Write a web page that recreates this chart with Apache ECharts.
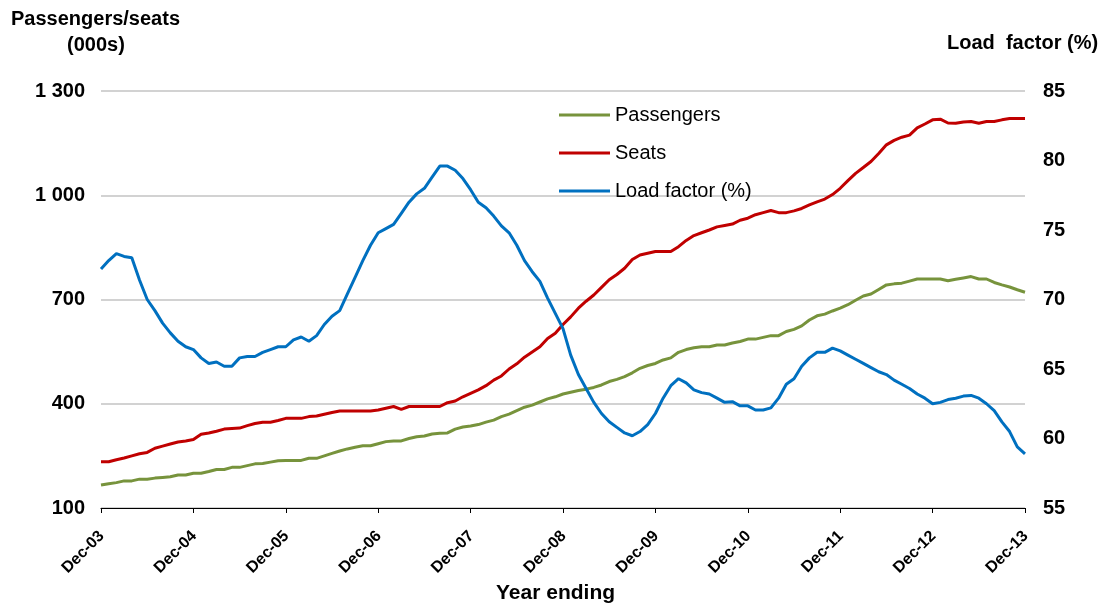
<!DOCTYPE html>
<html><head><meta charset="utf-8">
<script src="https://cdn.jsdelivr.net/npm/echarts@6/dist/echarts.min.js"></script>
<style>html,body{margin:0;padding:0;background:#fff}#c{width:1104px;height:605px}</style>
</head><body><div id="c"></div>
<script>
const yearLabels = ['Dec-03','Dec-04','Dec-05','Dec-06','Dec-07','Dec-08','Dec-09','Dec-10','Dec-11','Dec-12','Dec-13'];
const leftTicks = [100, 400, 700, 1000, 1300];
const rightTicks = [55, 60, 65, 70, 75, 80, 85];

const passengers = [166,170,173,178,178,183,183,186,188,190,195,195,200,200,205,211,211,217,217,222,227,228,232,236,237,237,237,243,243,250,257,264,270,275,279,279,285,291,293,293,300,305,307,313,315,316,327,333,336,340,347,353,363,370,380,390,396,405,414,420,428,433,438,442,447,454,464,470,478,489,502,510,516,526,532,548,556,561,564,564,569,569,575,579,586,586,591,596,596,608,614,624,641,653,658,667,675,685,698,710,716,729,742,745,747,753,759,759,759,759,754,758,762,766,759,759,749,742,736,728,721];
const seats = [233,233,239,244,250,256,260,272,278,284,290,293,297,312,316,321,327,329,330,337,343,347,347,352,358,358,358,363,365,370,375,379,379,379,379,379,382,387,392,384,392,392,392,392,392,403,408,420,430,440,452,468,480,500,515,534,549,564,588,603,628,650,675,695,713,735,757,772,790,815,828,833,838,838,838,852,870,884,892,900,909,913,917,928,934,944,950,956,950,950,955,962,972,981,989,1002,1020,1042,1063,1080,1097,1120,1145,1158,1167,1173,1194,1205,1217,1219,1208,1207,1211,1212,1207,1212,1212,1217,1221,1221,1221];
const loadFactor = [72.2,72.8,73.3,73.1,73.0,71.4,70.0,69.2,68.3,67.6,67.0,66.6,66.4,65.8,65.4,65.5,65.2,65.2,65.8,65.9,65.9,66.2,66.4,66.6,66.6,67.1,67.3,67.0,67.4,68.2,68.8,69.2,70.4,71.6,72.8,73.9,74.8,75.1,75.4,76.2,77.0,77.6,78.0,78.8,79.6,79.6,79.3,78.7,77.9,77.0,76.6,76.0,75.3,74.8,73.9,72.8,72.0,71.3,70.1,69.0,67.9,66.0,64.6,63.6,62.6,61.8,61.2,60.8,60.4,60.2,60.5,61.0,61.8,62.9,63.8,64.3,64.0,63.5,63.3,63.2,62.9,62.6,62.65,62.35,62.35,62.05,62.05,62.2,62.9,63.9,64.3,65.2,65.8,66.2,66.2,66.5,66.3,66.0,65.7,65.4,65.1,64.8,64.6,64.2,63.9,63.6,63.2,62.9,62.5,62.6,62.8,62.9,63.05,63.1,62.9,62.5,62.0,61.2,60.5,59.4,58.9];

// monthly categories: label only at each Dec
const categories = [];
for (let y = 0; y < yearLabels.length; y++) {
  if (y === 0) { categories.push(yearLabels[0]); continue; }
  for (let m = 1; m < 12; m++) categories.push('');
  categories.push(yearLabels[y]);
}

const FONT = '"Liberation Sans", Arial, sans-serif';
const chart = echarts.init(document.getElementById('c'));
chart.setOption({
  animation: false,
  grid: { left: 101, right: 79, top: 91, bottom: 97 },
  legend: {
    orient: 'vertical', left: 554, top: 100,
    itemWidth: 51, itemHeight: 3, itemGap: 18, icon: 'rect',
    textStyle: { fontFamily: FONT, fontSize: 20, color: '#000' },
    data: ['Passengers', 'Seats', 'Load factor (%)']
  },
  xAxis: {
    type: 'category', data: categories, boundaryGap: false,
    axisLine: { lineStyle: { color: '#000', width: 1.2 } },
    axisTick: { show: true, interval: 11, length: 5, lineStyle: { color: '#000' } },
    axisLabel: { interval: 11, rotate: 45, fontFamily: FONT, fontWeight: 'bold', fontSize: 16, color: '#000',
      margin: 15, align: 'right', verticalAlign: 'top', padding: [0, 7, 0, 0] },
    splitLine: { show: false }
  },
  yAxis: [
    {
      type: 'value', min: 100, max: 1300, interval: 300, position: 'left',
      axisLine: { show: false }, axisTick: { show: false },
      axisLabel: { fontFamily: FONT, fontWeight: 'bold', fontSize: 20, color: '#000', margin: 16,
        formatter: v => v >= 1000 ? String(v).replace(/(\d)(\d{3})$/, '$1 $2') : String(v) },
      splitLine: { show: true, lineStyle: { color: '#c3c3c3', width: 1.5 } }
    },
    {
      type: 'value', min: 55, max: 85, interval: 5, position: 'right',
      axisLine: { show: false }, axisTick: { show: false },
      axisLabel: { fontFamily: FONT, fontWeight: 'bold', fontSize: 20, color: '#000', margin: 18 },
      splitLine: { show: false }
    }
  ],
  graphic: [
    { type: 'text', left: 11, top: 9, style: { text: 'Passengers/seats', font: 'bold 20px ' + FONT, fill: '#000' } },
    { type: 'text', left: 67, top: 35, style: { text: '(000s)', font: 'bold 20px ' + FONT, fill: '#000' } },
    { type: 'text', left: 947, top: 33, style: { text: 'Load  factor (%)', font: 'bold 20px ' + FONT, fill: '#000' } },
    { type: 'text', left: 496, top: 583, style: { text: 'Year ending', font: 'bold 21px ' + FONT, fill: '#000' } }
  ],
  series: [
    { name: 'Passengers', type: 'line', yAxisIndex: 0, data: passengers, showSymbol: false, symbol: 'none',
      lineStyle: { color: '#77933C', width: 3 }, itemStyle: { color: '#77933C' } },
    { name: 'Seats', type: 'line', yAxisIndex: 0, data: seats, showSymbol: false, symbol: 'none',
      lineStyle: { color: '#C00000', width: 3 }, itemStyle: { color: '#C00000' } },
    { name: 'Load factor (%)', type: 'line', yAxisIndex: 1, data: loadFactor, showSymbol: false, symbol: 'none',
      lineStyle: { color: '#0070C0', width: 3 }, itemStyle: { color: '#0070C0' } }
  ]
});
</script></body></html>
